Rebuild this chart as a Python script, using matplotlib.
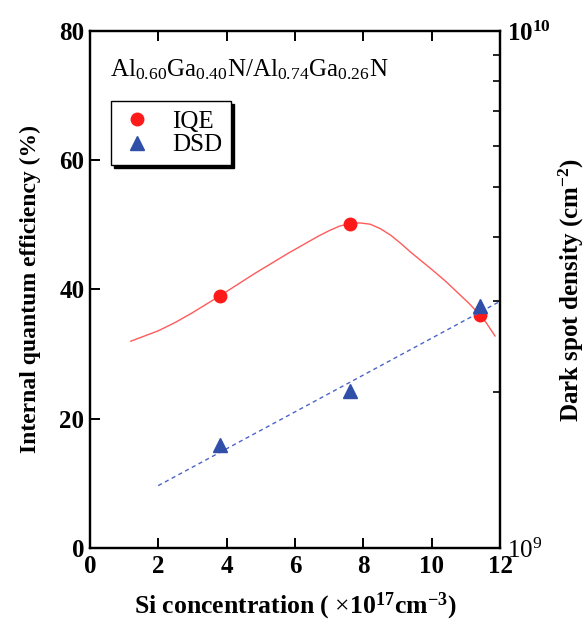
import matplotlib
matplotlib.use('Agg')
import matplotlib.pyplot as plt
from matplotlib.ticker import FixedLocator, FixedFormatter, LogLocator, NullFormatter

# Data
si_conc = [3.8, 7.6, 11.4]
iqe = [39.0, 50.2, 36.0]
dsd = [1.58e9, 2.01e9, 2.94e9]

# IQE guide curve
iqe_curve_x = [1.2, 1.6, 2.0, 2.5, 3.0, 3.4, 3.8, 4.3, 4.8, 5.3, 5.8, 6.3,
               6.7, 7.0, 7.3, 7.6, 7.9, 8.2, 8.5, 8.8, 9.1, 9.4, 9.7, 10.0,
               10.4, 10.8, 11.1, 11.4, 11.6, 11.85]
iqe_curve_y = [32.0, 32.8, 33.6, 34.9, 36.4, 37.7, 39.0, 40.7, 42.4, 44.0,
               45.6, 47.1, 48.3, 49.1, 49.8, 50.2, 50.3, 50.1, 49.4, 48.4,
               47.1, 45.7, 44.4, 43.1, 41.3, 39.3, 37.8, 36.1, 34.8, 32.8]

# DSD trend line endpoints
dsd_fit_x = [2.0, 12.0]
dsd_fit_y = [1.32e9, 3.0e9]

plt.rcParams['font.family'] = 'Liberation Serif'
plt.rcParams['mathtext.fontset'] = 'custom'
plt.rcParams['mathtext.rm'] = 'Liberation Serif'
plt.rcParams['mathtext.bf'] = 'Liberation Serif:bold'
plt.rcParams['mathtext.default'] = 'rm'

fig = plt.figure(figsize=(5.87, 6.21), dpi=100)
ax = fig.add_axes([0.153, 0.1176, 0.699, 0.8325])
ax2 = ax.twinx()

ax.plot(iqe_curve_x, iqe_curve_y, color='#ff5a5a', lw=1.0, zorder=2)
ln1, = ax.plot(si_conc, iqe, 'o', color='#ff1a1a', ms=9, label='IQE', zorder=4)

ax2.plot(dsd_fit_x, dsd_fit_y, color='#4a64c8', lw=1.0, ls=(0, (3, 2.5)))
ln2, = ax2.plot(si_conc, dsd, '^', color='#2f4fa8', ms=10, label='DSD')

ax.set_xlim(0, 12)
ax.set_ylim(0, 80)
ax.set_xticks([0, 2, 4, 6, 8, 10, 12])
ax.set_yticks([0, 20, 40, 60, 80])
ax2.set_yscale('log')
ax2.set_ylim(1e9, 1e10)
ax2.yaxis.set_major_locator(FixedLocator([1e9, 1e10]))
ax2.yaxis.set_major_formatter(FixedFormatter([r'$10^{9}$', r'$\mathbf{10^{10}}$']))
ax2.yaxis.set_minor_locator(LogLocator(base=10, subs=range(2, 10)))
ax2.yaxis.set_minor_formatter(NullFormatter())

for a in (ax, ax2):
    for s in a.spines.values():
        s.set_linewidth(1.6)

ax.tick_params(direction='in', length=7, width=1.4, top=True, right=False,
               labelsize=18)
ax.tick_params(axis='x', pad=5)
ax.tick_params(axis='y', pad=4)
ax2.tick_params(which='major', direction='in', length=7, width=1.4, labelsize=18, pad=5)
ax2.tick_params(which='minor', direction='in', length=5, width=1.2)
for lbl in ax.get_xticklabels() + ax.get_yticklabels():
    lbl.set_fontweight('bold')

ax.set_xlabel(r'Si concentration ( $\times$10$^{\mathbf{17}}$cm$^{\mathbf{-3}}$)',
              fontsize=18.5, fontweight='bold', labelpad=9)
ax.set_ylabel('Internal quantum efficiency (%)', fontsize=17, fontweight='bold')
ax.yaxis.set_label_coords(-0.118, 0.5)
ax2.set_ylabel(r'Dark spot density (cm$^{\mathbf{-2}}$)', fontsize=18, fontweight='bold')
ax2.yaxis.set_label_coords(1.138, 0.5)

ax.text(0.6, 74, r'Al$_{0.60}$Ga$_{0.40}$N/Al$_{0.74}$Ga$_{0.26}$N', fontsize=18,
        va='center', ha='left')

leg = ax2.legend([ln1, ln2], ['IQE', 'DSD'], loc='upper left',
                 bbox_to_anchor=(0.051, 0.864), borderaxespad=0, fontsize=18,
                 frameon=True, fancybox=False, shadow={'color': 'black', 'alpha': 1},
                 edgecolor='black', handletextpad=0.7, labelspacing=0.05,
                 borderpad=0.35, handlelength=1.4)
leg.get_frame().set_linewidth(1.0)

fig.savefig('out.png', dpi=100)
